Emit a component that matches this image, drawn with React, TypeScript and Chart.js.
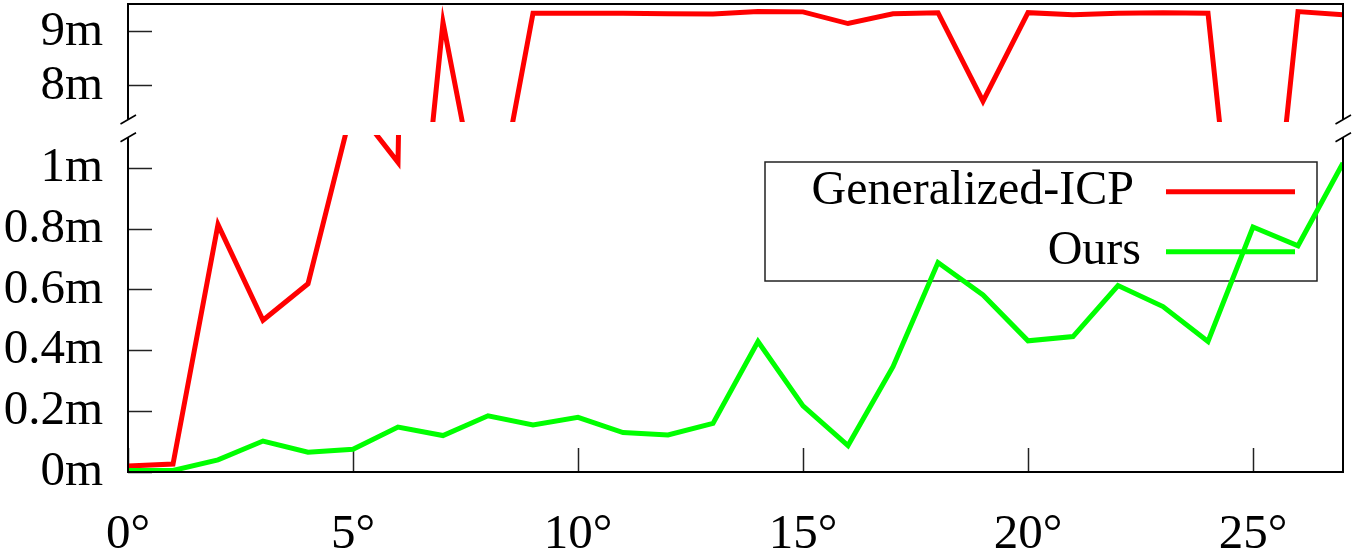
import React, { useEffect, useRef } from 'react';
import { Chart, registerables } from 'chart.js';

Chart.register(...registerables);

// ---- data ----
const angles = [0, 1, 2, 3, 4, 5, 6, 7, 8, 9, 10, 11, 12, 13, 14, 15, 16, 17, 18, 19, 20, 21, 22, 23, 24, 25, 26, 27];
const gicpError = [0.02, 0.026, 0.815, 0.5, 0.62, 1.21, 1.02, 9.17, 4.9, 9.34, 9.34, 9.34, 9.33, 9.325, 9.37, 9.365, 9.15, 9.33, 9.35, 7.72, 9.35, 9.31, 9.34, 9.35, 9.34, 1.5, 9.37, 9.31];
const oursError = [0.005, 0.005, 0.04, 0.102, 0.065, 0.075, 0.148, 0.12, 0.185, 0.155, 0.18, 0.13, 0.122, 0.16, 0.43, 0.218, 0.087, 0.347, 0.69, 0.583, 0.432, 0.446, 0.614, 0.545, 0.43, 0.807, 0.745, 1.018];
const seriesNames = ['Generalized-ICP', 'Ours'];
const seriesColors = ['#ff0000', '#00ff00'];

const xTickValues = [0, 5, 10, 15, 20, 25];
const xTickLabels = ['0°', '5°', '10°', '15°', '20°', '25°'];
const topYTickValues = [8, 9];
const topYTickLabels = ['8m', '9m'];
const bottomYTickValues = [0, 0.2, 0.4, 0.6, 0.8, 1];
const bottomYTickLabels = ['0m', '0.2m', '0.4m', '0.6m', '0.8m', '1m'];

const xRange = [0, 27];
const topYRange = [7.337, 9.51];
const bottomYRange = [0, 1.11];

// ---- layout / style ----
const W = 1354;
const TOP_H = 128;
const BOT_TOP = 128;
const BOT_H = 422;
const FONT = 'Liberation Serif, Times New Roman, serif';
const TICK_FONT_SIZE = 49;
const LEGEND_FONT_SIZE = 48;

const pts = (ys: number[]) => angles.map((a, i) => ({ x: a, y: ys[i] }));

const zeroPad = (s: any) => {
  s.paddingTop = 0;
  s.paddingBottom = 0;
  s.paddingLeft = 0;
  s.paddingRight = 0;
};

function framePlugin(panel: 'top' | 'bottom') {
  return {
    id: 'frame_' + panel,
    afterDraw(chart: any) {
      const { ctx, chartArea: a } = chart;
      ctx.save();
      ctx.strokeStyle = '#000';
      ctx.lineCap = 'butt';
      const slash = (cx: number, cy: number) => {
        ctx.beginPath();
        ctx.lineWidth = 1.6;
        ctx.moveTo(cx - 7.5, cy + 4.5);
        ctx.lineTo(cx + 8, cy - 4.5);
        ctx.stroke();
      };
      ctx.lineWidth = 2;
      if (panel === 'top') {
        const yb = a.bottom - 2.5;
        ctx.beginPath();
        ctx.moveTo(a.left, yb);
        ctx.lineTo(a.left, a.top);
        ctx.lineTo(a.right, a.top);
        ctx.lineTo(a.right, yb);
        ctx.stroke();
        slash(a.left, yb);
        slash(a.right, yb);
      } else {
        const yt = a.top + 2.3;
        ctx.beginPath();
        ctx.moveTo(a.left, yt);
        ctx.lineTo(a.left, a.bottom);
        ctx.lineTo(a.right, a.bottom);
        ctx.lineTo(a.right, yt);
        ctx.stroke();
        slash(a.left, yt);
        slash(a.right, yt);
      }
      ctx.restore();
    },
  };
}

const legendPlugin = {
  id: 'boxLegend',
  beforeDatasetsDraw(chart: any) {
    const { ctx } = chart;
    const offY = BOT_TOP;
    const box = { l: 765, t: 162 - offY, r: 1317, b: 281 - offY };
    ctx.save();
    ctx.strokeStyle = '#222';
    ctx.lineWidth = 1.5;
    ctx.strokeRect(box.l, box.t, box.r - box.l, box.b - box.t);
    const rows = [
      { y: 191.7 - offY, textRight: 1134 },
      { y: 251.7 - offY, textRight: 1141 },
    ];
    ctx.font = `${LEGEND_FONT_SIZE}px ${FONT}`;
    ctx.textAlign = 'right';
    ctx.textBaseline = 'middle';
    chart.data.datasets.forEach((ds: any, i: number) => {
      const r = rows[i];
      ctx.fillStyle = '#000';
      ctx.fillText(ds.label, r.textRight, r.y);
      ctx.strokeStyle = ds.borderColor;
      ctx.lineWidth = 5;
      ctx.beginPath();
      ctx.moveTo(1166, r.y);
      ctx.lineTo(1295, r.y);
      ctx.stroke();
    });
    ctx.restore();
  },
};

function yAxis(range: number[], tickVals: number[], tickLabels: string[]) {
  return {
    type: 'linear',
    position: 'left',
    min: range[0],
    max: range[1],
    afterFit: (s: any) => {
      s.width = 128;
      zeroPad(s);
    },
    afterBuildTicks: (s: any) => {
      s.ticks = tickVals.map((v) => ({ value: v }));
    },
    ticks: {
      callback: (_v: any, i: number) => tickLabels[i],
      padding: 49,
      color: '#000',
      font: { family: FONT, size: TICK_FONT_SIZE },
    },
    grid: { drawOnChartArea: false, tickLength: -24, tickColor: '#222', tickWidth: 1.5 },
    border: { display: false },
  };
}

function lineDs(i: number, ys: number[], order: number) {
  return {
    label: seriesNames[i],
    data: pts(ys),
    borderColor: seriesColors[i],
    backgroundColor: seriesColors[i],
    borderWidth: 5,
    pointRadius: 0,
    tension: 0,
    fill: false,
    borderJoinStyle: 'miter',
    borderCapStyle: 'butt',
    order,
  };
}

export default function App() {
  const topRef = useRef<HTMLCanvasElement>(null);
  const botRef = useRef<HTMLCanvasElement>(null);

  useEffect(() => {
    Chart.defaults.font.family = FONT;
    const top = new Chart(topRef.current as HTMLCanvasElement, {
      type: 'line',
      data: { datasets: [lineDs(0, gicpError, 1), lineDs(1, oursError, 0)] as any },
      options: {
        responsive: false,
        animation: false,
        devicePixelRatio: 1,
        layout: { padding: { left: 0, top: 4, right: 11, bottom: 6 } },
        plugins: { legend: { display: false }, tooltip: { enabled: false } },
        scales: {
          x: { type: 'linear', min: xRange[0], max: xRange[1], display: false },
          y: yAxis(topYRange, topYTickValues, topYTickLabels) as any,
        },
      } as any,
      plugins: [framePlugin('top')],
    });

    const bottom = new Chart(botRef.current as HTMLCanvasElement, {
      type: 'line',
      data: { datasets: [lineDs(0, gicpError, 1), lineDs(1, oursError, 0)] as any },
      options: {
        responsive: false,
        animation: false,
        devicePixelRatio: 1,
        layout: { padding: { left: 0, top: 7, right: 11, bottom: 0 } },
        plugins: { legend: { display: false }, tooltip: { enabled: false } },
        scales: {
          x: {
            type: 'linear',
            position: 'bottom',
            min: xRange[0],
            max: xRange[1],
            afterFit: (s: any) => {
              s.height = 78;
              zeroPad(s);
            },
            afterBuildTicks: (s: any) => {
              s.ticks = xTickValues.map((v) => ({ value: v }));
            },
            ticks: {
              callback: (_v: any, i: number) => xTickLabels[i],
              padding: 58,
              color: '#000',
              maxRotation: 0,
              autoSkip: false,
              font: { family: FONT, size: TICK_FONT_SIZE },
            },
            grid: { drawOnChartArea: false, tickLength: -24, tickColor: '#222', tickWidth: 1.5 },
            border: { display: false },
          },
          y: yAxis(bottomYRange, bottomYTickValues, bottomYTickLabels) as any,
        },
      } as any,
      plugins: [framePlugin('bottom'), legendPlugin],
    });

    return () => {
      top.destroy();
      bottom.destroy();
    };
  }, []);

  return (
    <div style={{ position: 'fixed', left: 0, top: 0, width: W, height: TOP_H + BOT_H, background: '#fff', overflow: 'hidden' }}>
      <canvas ref={topRef} width={W} height={TOP_H} style={{ position: 'absolute', left: 0, top: 0, width: W, height: TOP_H }} />
      <canvas ref={botRef} width={W} height={BOT_H} style={{ position: 'absolute', left: 0, top: BOT_TOP, width: W, height: BOT_H }} />
    </div>
  );
}
